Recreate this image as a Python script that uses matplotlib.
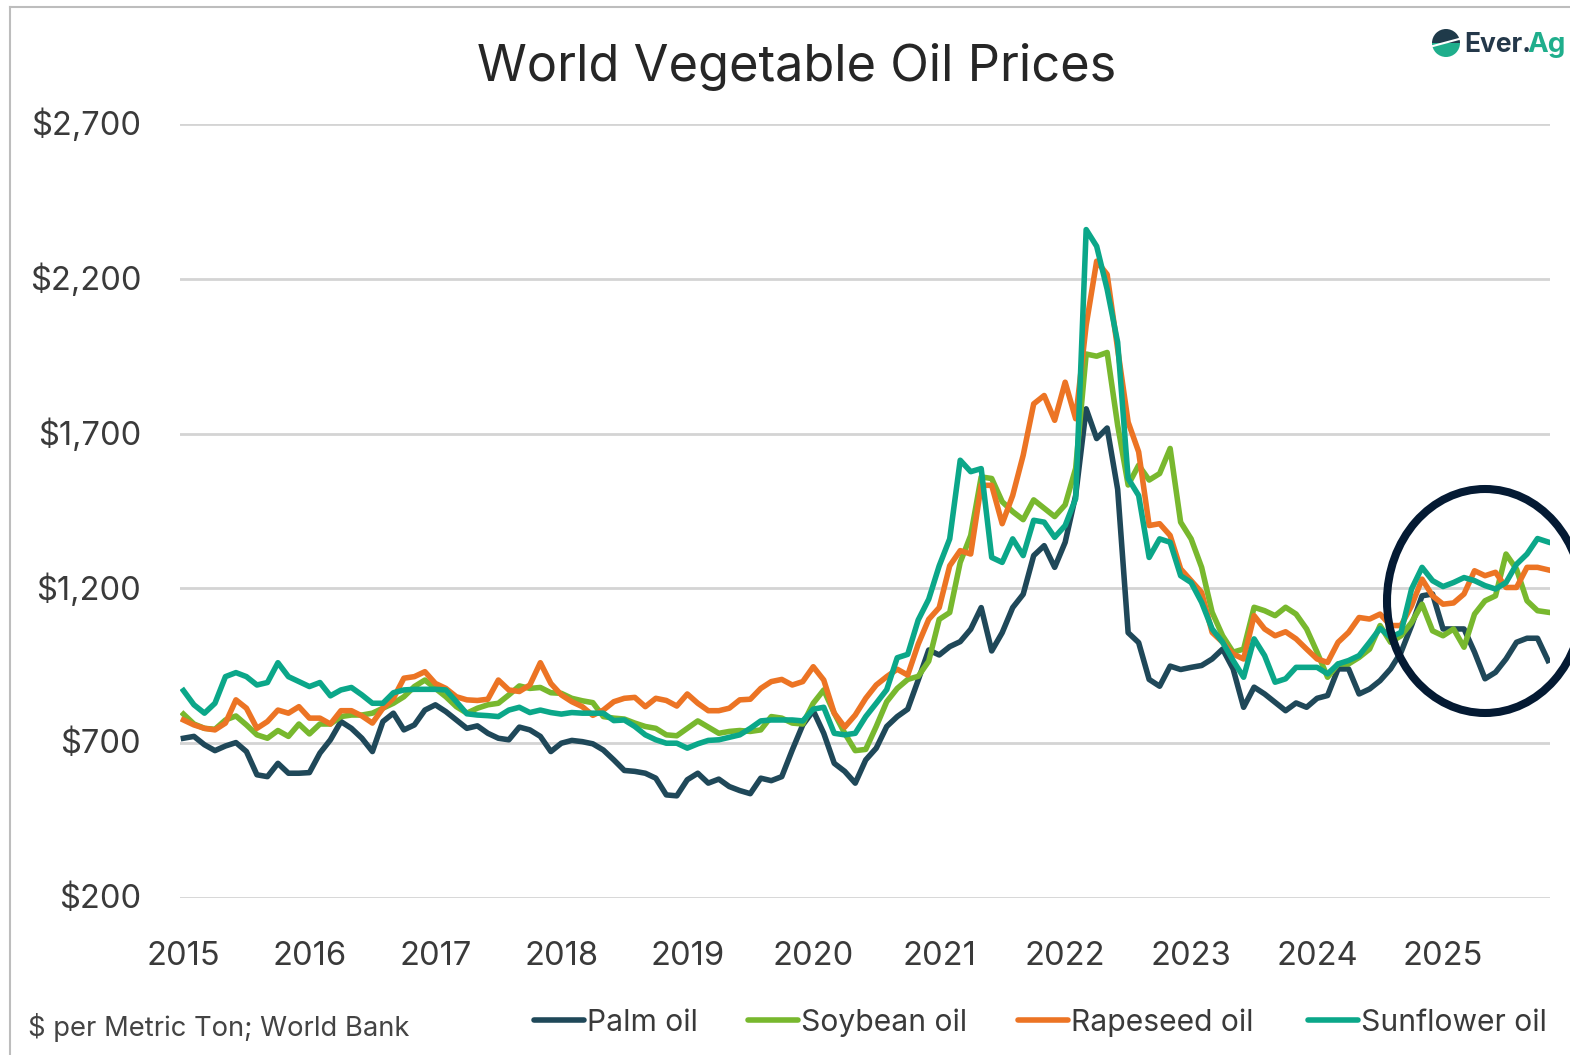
import matplotlib
matplotlib.use("Agg")
import matplotlib.pyplot as plt
from matplotlib.patches import Ellipse, Wedge
from matplotlib.lines import Line2D
from matplotlib.transforms import ScaledTranslation

plt.rcParams['font.family'] = ['Inter', 'DejaVu Sans']

# monthly prices, Jan 2015 - Nov 2025
palm = [716,722,695,676,691,702,673,598,592,635,603,603,
        605,668,711,770,748,716,673,770,797,743,759,807,
        824,802,775,748,756,732,716,711,752,743,722,673,
        700,709,705,698,678,646,612,609,603,587,533,530,
        582,603,571,584,560,547,537,587,579,592,678,759,
        805,732,635,609,571,646,684,754,786,810,904,1001,
        985,1012,1028,1068,1138,998,1057,1138,1181,1306,1338,1268,
        1349,1500,1780,1684,1718,1520,1057,1025,906,884,949,938,
        945,951,972,1004,940,816,881,859,832,805,830,816,
        845,854,940,940,859,875,902,940,994,1080,1176,1182,
        1069,1069,1069,994,908,929,972,1026,1039,1039,967]
soybean = [794,762,748,745,775,788,759,727,716,741,722,762,
           730,762,762,786,791,791,797,813,829,850,883,904,
           877,850,818,797,813,824,829,856,885,877,880,863,
           861,845,837,831,786,781,778,765,754,748,727,724,
           748,772,752,732,738,741,738,743,786,781,765,762,
           829,872,797,732,676,680,754,834,877,906,916,965,
           1100,1122,1284,1371,1560,1555,1480,1448,1422,1486,1459,1432,
           1470,1588,1957,1950,1962,1727,1534,1598,1550,1571,1652,1414,
           1360,1268,1123,1047,994,1004,1139,1128,1112,1139,1117,1069,
           994,913,956,956,977,1004,1080,1026,1047,1090,1149,1063,
           1047,1069,1010,1117,1160,1176,1311,1262,1160,1128,1123]
rapeseed = [775,759,748,743,765,840,813,748,770,807,797,818,
            781,781,762,805,805,788,765,813,845,910,915,931,
            893,877,850,840,838,842,904,872,867,888,960,893,
            856,834,818,790,807,834,845,848,818,845,838,820,
            859,829,805,805,813,840,842,877,899,906,888,899,
            947,904,797,752,791,845,888,915,939,920,1020,1100,
            1138,1273,1322,1311,1533,1533,1409,1500,1630,1796,1823,1743,
            1866,1748,2050,2257,2214,1973,1737,1641,1403,1409,1371,1263,
            1225,1187,1058,1026,988,972,1112,1069,1047,1060,1037,1004,
            972,961,1026,1058,1106,1101,1117,1080,1080,1144,1230,1176,
            1149,1153,1182,1257,1241,1252,1203,1203,1268,1268,1260]
sunflower = [870,824,797,829,915,928,915,888,896,960,915,899,
             883,896,853,872,880,856,829,829,863,872,874,874,
             874,872,834,795,791,789,786,807,816,799,807,799,
             794,799,797,797,797,773,775,754,727,711,700,700,
             684,698,709,711,719,727,748,772,775,775,775,772,
             810,816,732,727,732,786,829,873,976,987,1098,1165,
             1273,1360,1614,1577,1587,1300,1284,1360,1306,1420,1414,1365,
             1403,1490,2359,2305,2166,1995,1555,1500,1300,1360,1349,1241,
             1219,1155,1069,1026,967,913,1037,983,897,908,945,945,
             945,924,956,967,983,1026,1071,1042,1058,1198,1268,1225,
             1206,1219,1235,1225,1209,1198,1219,1278,1311,1361,1350]

names = ['Palm oil', 'Soybean oil', 'Rapeseed oil', 'Sunflower oil']
colors = ['#1f4859', '#78b82e', '#ec7424', '#0ba789']
years = ['2015', '2016', '2017', '2018', '2019', '2020', '2021', '2022', '2023', '2024', '2025']
y_ticks = [200, 700, 1200, 1700, 2200, 2700]
y_labels = ['$200', '$700', '$1,200', '$1,700', '$2,200', '$2,700']

W, H = 1570, 1055
fig = plt.figure(figsize=(W / 100, H / 100), dpi=100)

ax = fig.add_axes([180 / W, 1 - 898 / H, (1550 - 180) / W, (898 - 124) / H])
for series, name, c in zip([palm, soybean, rapeseed, sunflower], names, colors):
    ax.plot(range(len(series)), series, color=c, lw=4, label=name, solid_joinstyle='round')

ax.set_xlim(-0.33, 130.19)
ax.set_ylim(200, 2700)
ax.set_yticks(y_ticks, y_labels)
ax.set_xticks([12 * i for i in range(len(years))], years)
ax.tick_params(length=0, labelsize=23.5, labelcolor='#3a3a3a')
ax.tick_params(axis='x', pad=31)
ax.tick_params(axis='y', pad=28)
ax.grid(axis='y', color='#d4d4d4', lw=2)
ax.set_axisbelow(True)
for s in ax.spines.values():
    s.set_visible(False)
up = ScaledTranslation(0, 1.5 / 72, fig.dpi_scale_trans)
for lab in ax.get_yticklabels():
    lab.set_transform(lab.get_transform() + up)

# overlay in pixel coordinates for frame, title, legend, logo, circle
top = fig.add_axes([0, 0, 1, 1], facecolor='none')
top.set_xlim(0, W)
top.set_ylim(H, 0)
top.axis('off')

top.plot([10, 10], [7, H], color='#bdbdbd', lw=1.5)
top.plot([10, W], [7, 7], color='#bdbdbd', lw=1.5)

top.text(797, 67, 'World Vegetable Oil Prices', ha='center', va='center', fontsize=36.4, color='#262626')
top.text(28, 1028, '$ per Metric Ton; World Bank', ha='left', va='center', fontsize=19.7, color='#444444')

line_x = [534, 748, 1018, 1308]
for x0, name, c in zip(line_x, names, colors):
    top.add_line(Line2D([x0, x0 + 50], [1020, 1020], color=c, lw=4, solid_capstyle='round'))
    top.text(x0 + 53, 1023, name, ha='left', va='center', fontsize=21.6, color='#3a3a3a')

# logo
top.add_patch(Wedge((1446, 43), 14, 180, 360, color='#1f3a4a', lw=0))
top.add_patch(Wedge((1446, 43), 14, 0, 180, color='#1fae8c', lw=0))
top.plot([1433, 1459], [46, 39], color='white', lw=1.5)
top.text(1464, 52, 'Ever.', ha='left', va='baseline', fontsize=19, fontweight='bold', color='#24384a')
top.text(1527, 52, 'Ag', ha='left', va='baseline', fontsize=20, fontweight='bold', color='#1fae8c')

top.add_patch(Ellipse((1485, 601), 196, 224, fill=False, edgecolor='#041a33', lw=5.8))

fig.savefig('out.png', dpi=100, facecolor='white')
